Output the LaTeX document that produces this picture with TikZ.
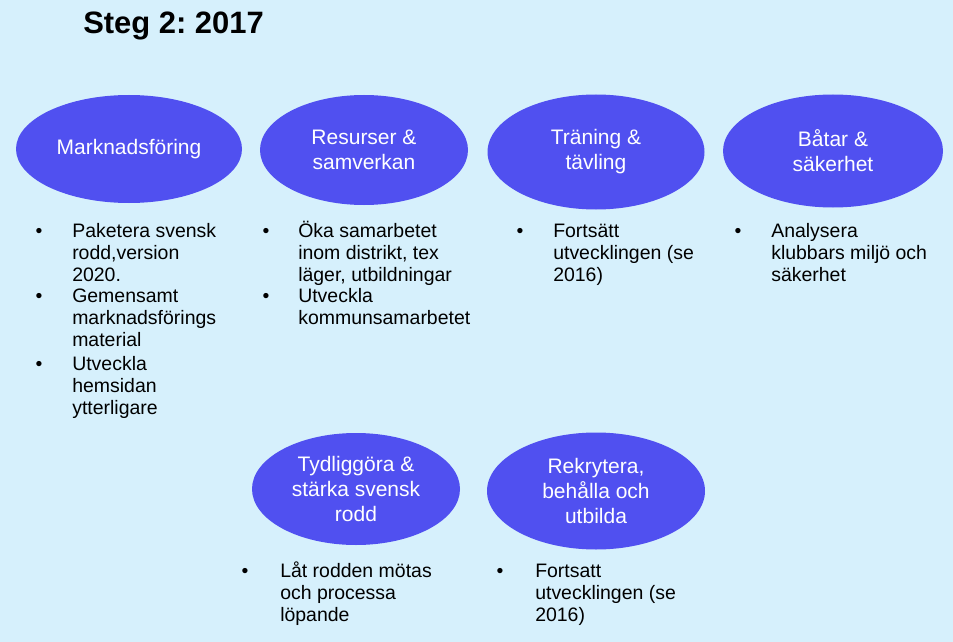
\documentclass[tikz,border=0pt]{standalone}
\usepackage{fontspec}
\setmainfont{Liberation Sans}
\frenchspacing
\usetikzlibrary{shapes.geometric,positioning}
\definecolor{bgblue}{RGB}{214,240,252}
\definecolor{ovalblue}{RGB}{80,80,240}
\tikzset{
  oval/.style={ellipse,fill=ovalblue,text=white,align=center,inner sep=0pt,font=\fontsize{15.75}{18.75}\selectfont},
  item/.style={anchor=base west,align=left,inner sep=0pt,font=\fontsize{14.6}{16.7}\selectfont},
  dot/.style={anchor=base,inner sep=0pt,font=\fontsize{14.6}{16.7}\selectfont}
}
\begin{document}
\begin{tikzpicture}[x=0.75pt,y=-0.75pt]
        \fill[bgblue](0,0)rectangle(953,642);
        \node[anchor=base west,inner sep=0pt,font=\bfseries\fontsize{23.2}{28}\selectfont](title)at(83,34){Steg 2: 2017};
        % ovals
        \node[oval,minimum width=169.5pt,minimum height=81pt](mark)at(129,149){Marknadsföring};
        \node[oval,minimum width=156pt,minimum height=82.5pt](res)at(364,150){Resurser \&\\samverkan};
        \node[oval,minimum width=162.75pt,minimum height=86.25pt](tran)at(596,152){Träning \&\\tävling};
        \node[oval,minimum width=165pt,minimum height=84.75pt](bat)at(833,151){Båtar \&\\säkerhet};
        \node[oval,minimum width=156pt,minimum height=84pt](tyd)at(356,489){Tydliggöra \&\\stärka svensk\\rodd};
        \node[oval,minimum width=163.5pt,minimum height=87.75pt](rek)at(596,491){Rekrytera,\\behålla och\\utbilda};
        % lists (base = last line)
        \node[dot]at(39,237){\textbullet};
        \node[item](mark1)at(72,281.6){Paketera svensk\\rodd,version\\2020.};
        \node[dot]at(39,302){\textbullet};
        \node[item](mark2)at(72,346.6){Gemensamt\\marknadsförings\\material};
        \node[dot]at(39,370){\textbullet};
        \node[item](mark3)at(72,414.6){Utveckla\\hemsidan\\ytterligare};
        \node[dot]at(266,237){\textbullet};
        \node[item](res1)at(298,281.6){Öka samarbetet\\inom distrikt, tex\\läger, utbildningar};
        \node[dot]at(266,302){\textbullet};
        \node[item](res2)at(298,324.3){Utveckla\\kommunsamarbetet};
        \node[dot]at(520,237){\textbullet};
        \node[item](tran1)at(553,281.6){Fortsätt\\utvecklingen (se\\2016)};
        \node[dot]at(738,237){\textbullet};
        \node[item](bat1)at(771,281.6){Analysera\\klubbars miljö och\\säkerhet};
        \node[dot]at(245,577){\textbullet};
        \node[item](tyd1)at(280,621.6){Låt rodden mötas\\och processa\\löpande};
        \node[dot]at(500,577){\textbullet};
        \node[item](rek1)at(535,621.6){Fortsatt\\utvecklingen (se\\2016)};
    \end{tikzpicture}
\end{document}
